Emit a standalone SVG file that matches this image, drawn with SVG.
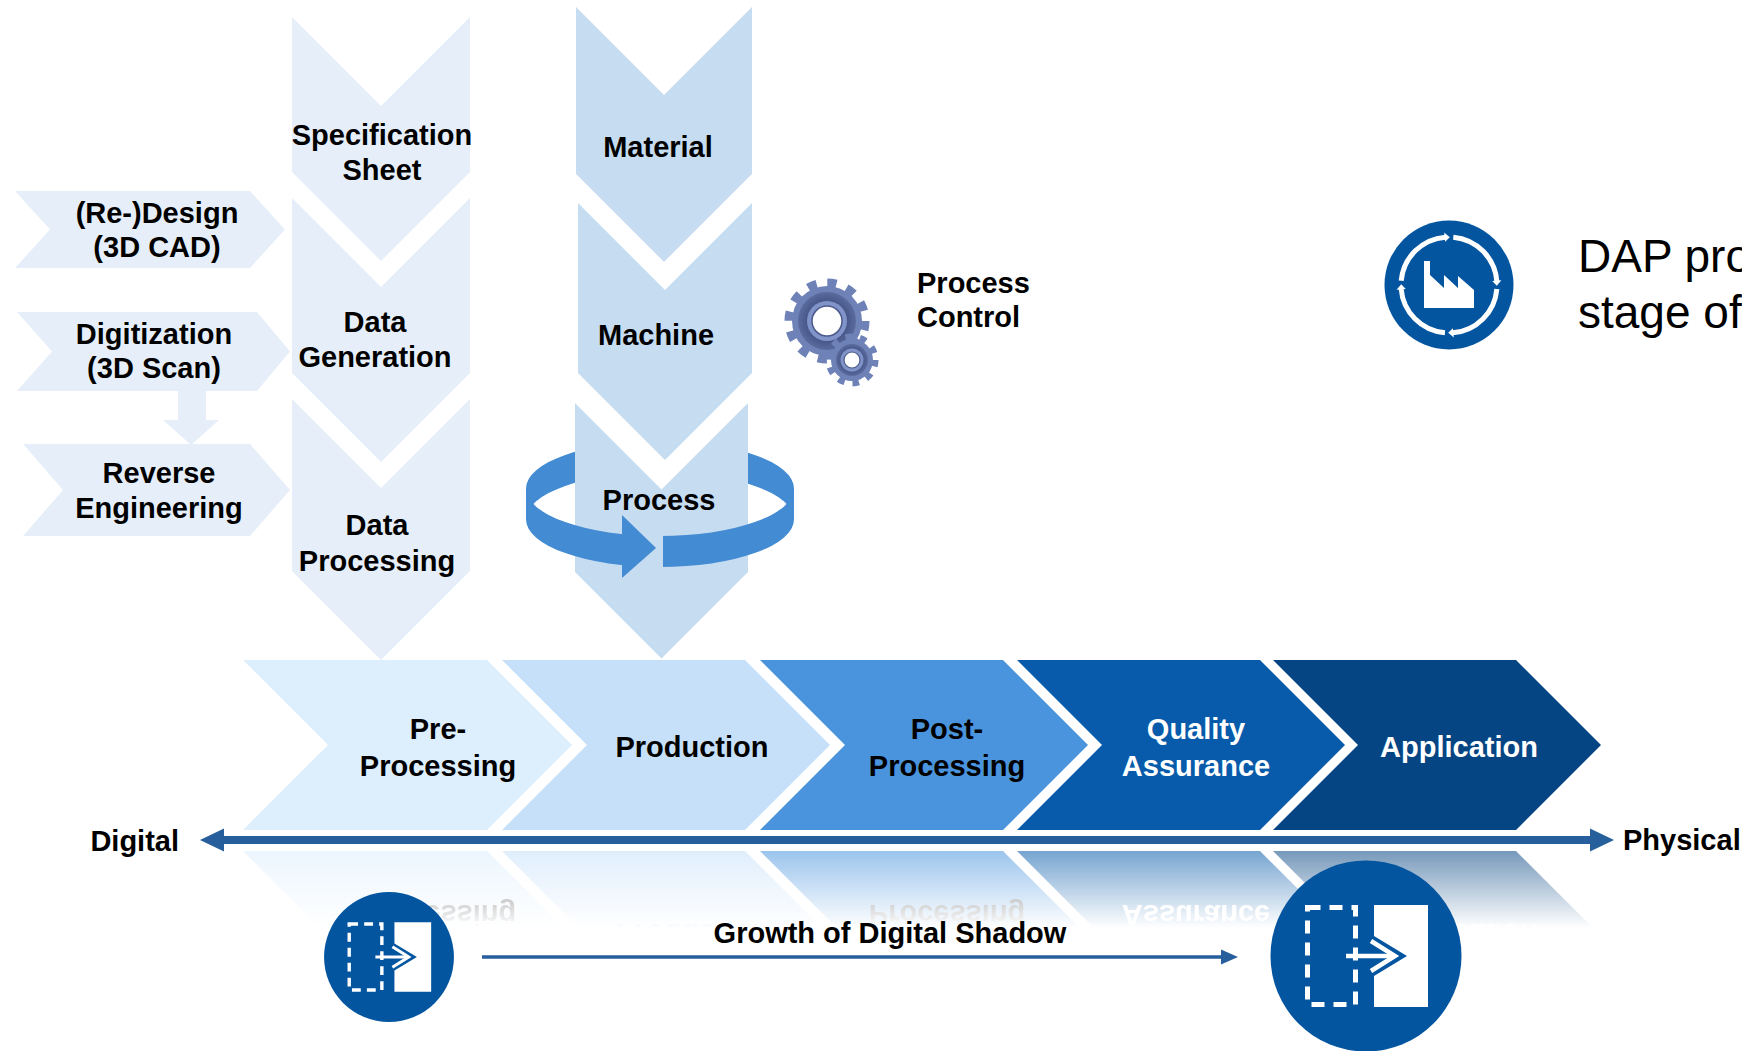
<svg xmlns="http://www.w3.org/2000/svg" xmlns:xlink="http://www.w3.org/1999/xlink" width="1742" height="1051" viewBox="0 0 1742 1051">
  <style>
    text { font-family: "Liberation Sans", Arial, Helvetica, sans-serif; font-weight: bold; font-size: 29px; fill: #000; text-anchor: middle; }
    .light { fill: #fff; }
    .big { font-weight: normal; font-size: 46px; text-anchor: start; }
    .start { text-anchor: start; }
    .end { text-anchor: end; }
    .pale { fill: #E6EFF9; }
    .steel { fill: #C6DCF1; }
    .ring { fill: #438BD2; }
    .axis { stroke: #265F9B; fill: none; }
    .axishead { fill: #265F9B; }
    .c1 { fill: #DDEEFD; }
    .c2 { fill: #C6E0FA; }
    .c3 { fill: #4A94DE; }
    .c4 { fill: #075BAA; }
    .c5 { fill: #064583; }
    .badge { fill: #0455A0; }
  </style>
  <defs>
    <linearGradient id="fadeGrad" gradientUnits="userSpaceOnUse" x1="0" y1="851" x2="0" y2="928">
      <stop offset="0" stop-color="#fff" stop-opacity="0.55"/>
      <stop offset="1" stop-color="#fff" stop-opacity="0"/>
    </linearGradient>
    <mask id="fadeMask" maskUnits="userSpaceOnUse" x="0" y="846" width="1742" height="100">
      <rect x="0" y="846" width="1742" height="100" fill="url(#fadeGrad)"/>
    </mask>
    <clipPath id="ringBackClip">
      <rect x="500" y="430" width="75.5" height="110"/>
      <rect x="748" y="430" width="60" height="110"/>
    </clipPath>
    <clipPath id="ringFrontClip">
      <rect x="500" y="480" width="123" height="110"/>
      <rect x="663" y="480" width="150" height="110"/>
    </clipPath>
    <radialGradient id="gearDark" cx="0.5" cy="0.5" r="0.5">
      <stop offset="0.55" stop-color="#3F4E7E"/>
      <stop offset="1" stop-color="#5A6B9E"/>
    </radialGradient>
    <!-- digital shadow badge, drawn at radius 95.5 around the origin -->
    <g id="shadowBadge">
      <circle r="95.5" class="badge"/>
      <rect x="-58.5" y="-48.5" width="48" height="97" fill="none" stroke="#fff" stroke-width="5" stroke-dasharray="13 9"/>
      <polygon points="8,-51 62,-51 62,51 8,51 8,20 41,0 8,-20" fill="#fff"/>
      <line x1="-20" y1="0" x2="27" y2="0" stroke="#fff" stroke-width="4.5"/>
      <polyline points="5,-15 29,0 5,15" fill="none" stroke="#fff" stroke-width="4.5"/>
    </g>
    <polygon id="loopTip" points="1449.8,237.2 1444.2,232.6 1445.1,241.8"/>
  </defs>

  <!-- data column -->
  <g id="spec-sheet">
    <path class="pale" d="M292,17 L292,172 L381,261 L470,172 L470,17 L381,106 Z"/>
    <text x="382" y="145">Specification</text>
    <text x="382" y="180">Sheet</text>
  </g>
  <g id="data-generation">
    <path class="pale" d="M292,198 L292,373 L381,462 L470,373 L470,198 L381,287 Z"/>
    <text x="375" y="332">Data</text>
    <text x="375" y="367">Generation</text>
  </g>
  <g id="data-processing">
    <path class="pale" d="M292,399 L292,571 L381,660 L470,571 L470,399 L381,488 Z"/>
    <text x="377" y="535">Data</text>
    <text x="377" y="571">Processing</text>
  </g>

  <!-- data sources -->
  <g id="redesign">
    <path class="pale" d="M15,191 L250,191 L285,229.5 L250,268 L15,268 L50,229.5 Z"/>
    <text x="157" y="223">(Re-)Design</text>
    <text x="157" y="257">(3D CAD)</text>
  </g>
  <g id="digitization">
    <path class="pale" d="M17,312 L257,312 L290,351.5 L257,391 L17,391 L52,351.5 Z"/>
    <text x="154" y="344">Digitization</text>
    <text x="154" y="378">(3D Scan)</text>
  </g>
  <g id="reverse-engineering">
    <path class="pale" d="M23,444 L250,444 L290,490 L250,536 L23,536 L63,490 Z"/>
    <text x="159" y="483">Reverse</text>
    <text x="159" y="518">Engineering</text>
  </g>

  <!-- manufacturing column with process loop -->
  <g id="process-loop-back">
    <path class="ring" clip-path="url(#ringBackClip)" d="M526,488.5 A134,47.5 0 0 1 794,488.5 L794,519.5 A134,47.5 0 0 0 526,519.5 Z"/>
  </g>
  <g id="material">
    <path class="steel" d="M576,7 L576,174 L664,262 L752,174 L752,7 L664,95 Z"/>
    <text x="658" y="157">Material</text>
  </g>
  <g id="machine">
    <path class="steel" d="M578,203 L578,373 L665,460 L752,373 L752,203 L665,290 Z"/>
    <text x="656" y="345">Machine</text>
  </g>
  <g id="process">
    <path class="steel" d="M575,403 L575,572 L661.5,658.5 L748,572 L748,403 L661.5,489.5 Z"/>
    <path class="ring" clip-path="url(#ringFrontClip)" d="M526,488.5 A134,47.5 0 0 0 794,488.5 L794,519.5 A134,47.5 0 0 1 526,519.5 Z"/>
    <polygon class="ring" points="622,515 656,548 622,578"/>
    <text x="659" y="510">Process</text>
  </g>

  <!-- process control -->
  <g id="process-control">
    <circle cx="827" cy="321" r="38" fill="none" stroke="#6E82B8" stroke-width="9" stroke-dasharray="9.2 10.7"/>
    <circle cx="827" cy="321" r="35" fill="#6E82B8"/>
    <circle cx="827" cy="321" r="29" fill="url(#gearDark)"/>
    <circle cx="827" cy="321" r="20" fill="#8094CA"/>
    <circle cx="827" cy="321" r="15" fill="#fff" stroke="#4B5A8A" stroke-width="1.5"/>
    <circle cx="852" cy="360" r="23" fill="none" stroke="#6E82B8" stroke-width="7" stroke-dasharray="6.5 7.95"/>
    <circle cx="852" cy="360" r="21" fill="#6E82B8"/>
    <circle cx="852" cy="360" r="16" fill="url(#gearDark)"/>
    <circle cx="852" cy="360" r="11.5" fill="#8094CA"/>
    <circle cx="852" cy="360" r="8" fill="#fff" stroke="#4B5A8A" stroke-width="1.2"/>
    <text class="start" x="917" y="293">Process</text>
    <text class="start" x="917" y="327">Control</text>
  </g>

  <!-- DAP badge -->
  <g id="dap-stage">
    <circle cx="1449" cy="285" r="64.5" class="badge"/>
    <circle cx="1449" cy="285" r="48" fill="none" stroke="#fff" stroke-width="5" stroke-dasharray="67.4 8" stroke-dashoffset="71.4"/>
    <g fill="#fff">
      <use xlink:href="#loopTip"/>
      <use xlink:href="#loopTip" transform="rotate(90 1449 285)"/>
      <use xlink:href="#loopTip" transform="rotate(180 1449 285)"/>
      <use xlink:href="#loopTip" transform="rotate(270 1449 285)"/>
    </g>
    <polygon fill="#fff" points="1424,308 1424,261 1430,261 1430,275 1444,288 1444,275 1458,288 1458,276 1474,290 1474,308"/>
    <text class="big" x="1578" y="272">DAP pro</text>
    <text class="big" x="1578" y="328">stage of</text>
  </g>

  <!-- process chain -->
  <g id="chain">
    <g id="pre-processing">
      <path class="c1" d="M243,660 L487,660 L572,745 L487,830 L243,830 L328,745 Z"/>
      <text x="438" y="739">Pre-</text>
      <text x="438" y="776">Processing</text>
    </g>
    <g id="production">
      <path class="c2" d="M502,660 L745,660 L830,745 L745,830 L502,830 L587,745 Z"/>
      <text x="692" y="757">Production</text>
    </g>
    <g id="post-processing">
      <path class="c3" d="M760,660 L1003,660 L1088,745 L1003,830 L760,830 L845,745 Z"/>
      <text x="947" y="739">Post-</text>
      <text x="947" y="776">Processing</text>
    </g>
    <g id="quality-assurance">
      <path class="c4" d="M1017,660 L1260,660 L1345,745 L1260,830 L1017,830 L1102,745 Z"/>
      <text class="light" x="1196" y="739">Quality</text>
      <text class="light" x="1196" y="776">Assurance</text>
    </g>
    <g id="application">
      <path class="c5" d="M1273,660 L1516,660 L1601,745 L1516,830 L1273,830 L1358,745 Z"/>
      <text class="light" x="1459" y="757">Application</text>
    </g>
  </g>

  <!-- mirrored chain fading out below the axis -->
  <g id="chain-reflection" mask="url(#fadeMask)">
    <use xlink:href="#chain" transform="matrix(1 0 0 -1 0 1681)"/>
  </g>

  <!-- connectors -->
  <g id="connectors">
    <path class="pale" d="M178,391 L206,391 L206,420 L219,420 L191,445 L163,420 L178,420 Z"/>
    <line class="axis" x1="220" y1="840" x2="1594" y2="840" stroke-width="8"/>
    <polygon class="axishead" points="200,840 224,828.5 224,851.5"/>
    <polygon class="axishead" points="1614,840 1590,828.5 1590,851.5"/>
    <line class="axis" x1="482" y1="957" x2="1224" y2="957" stroke-width="3.5"/>
    <polygon class="axishead" points="1238,957 1221,949.5 1221,964.5"/>
  </g>

  <g id="axis-labels">
    <text class="end" x="179" y="851">Digital</text>
    <text class="start" x="1623" y="850">Physical</text>
    <text x="890" y="943">Growth of Digital Shadow</text>
  </g>

  <g id="shadow-start">
    <use xlink:href="#shadowBadge" transform="translate(389,957) scale(0.68)"/>
  </g>
  <g id="shadow-end">
    <use xlink:href="#shadowBadge" transform="translate(1366,956)"/>
  </g>
</svg>
